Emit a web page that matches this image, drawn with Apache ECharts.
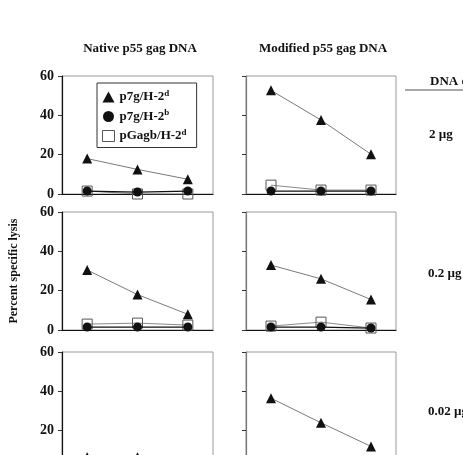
<!DOCTYPE html>
<html>
<head>
<meta charset="utf-8">
<script src="https://cdn.jsdelivr.net/npm/echarts@6/dist/echarts.min.js"></script>
<style>
  html, body { margin: 0; padding: 0; background: #fff; }
  #chart { width: 463px; height: 455px; }
</style>
</head>
<body>
<div id="chart"></div>
<script>
// effector points (unlabelled on the figure)
var categories = ['1', '2', '3'];
var yTicks = [0, 20, 40, 60];
var seriesNames = ['p7g/H-2d', 'p7g/H-2b', 'pGagb/H-2d'];
var doseLabels = ['2 µg', '0.2 µg', '0.02 µg'];

// native p55 gag DNA
var native2_d = [18, 12.5, 7.5];
var native2_b = [1.5, 1, 1.5];
var native2_g = [1.5, 0, 0];
var native02_d = [30.5, 18, 8];
var native02_b = [1.5, 1.5, 1.5];
var native02_g = [3, 3.5, 2.5];
var native002_d = [6.5, 6.5, 3];
var native002_b = [1, 1, 1];
var native002_g = [1.5, 1, 1];

// modified p55 gag DNA
var mod2_d = [52.7, 37.6, 20.2];
var mod2_b = [1.5, 1.5, 1.5];
var mod2_g = [4.5, 2, 2];
var mod02_d = [33, 26, 15.5];
var mod02_b = [1.5, 1.5, 1];
var mod02_g = [2, 4, 1];
var mod002_d = [36.5, 24, 12];
var mod002_b = [1.5, 1.5, 1];
var mod002_g = [2, 1.5, 1];

var panels = [
  [native2_d, native2_b, native2_g],
  [mod2_d, mod2_b, mod2_g],
  [native02_d, native02_b, native02_g],
  [mod02_d, mod02_b, mod02_g],
  [native002_d, native002_b, native002_g],
  [mod002_d, mod002_b, mod002_g]
];

var serif = 'Liberation Serif';
var ink = '#111';

var rowTops = [76, 212, 352];
var colLefts = [62, 246];
var colWidths = [151, 150];

var grids = [], xAxes = [], yAxes = [], series = [];
for (var i = 0; i < 6; i++) {
  var row = Math.floor(i / 2), col = i % 2;
  grids.push({
    left: colLefts[col], width: colWidths[col], top: rowTops[row], height: 118,
    outerBoundsMode: 'none', containLabel: false,   // last row runs off the page
    show: true, borderColor: '#9a9a9a', borderWidth: 1, backgroundColor: 'transparent'
  });
  xAxes.push({
    gridIndex: i, type: 'category', data: categories, boundaryGap: true,
    axisLine: { lineStyle: { color: ink, width: 1.2 } },
    axisTick: { alignWithLabel: true, length: 6, lineStyle: { color: '#444' } },
    axisLabel: { show: false }, splitLine: { show: false }
  });
  yAxes.push({
    gridIndex: i, type: 'value', min: yTicks[0], max: yTicks[yTicks.length - 1], interval: 20,
    axisLine: { show: true, lineStyle: { color: col === 0 ? ink : '#777', width: 1.2 } },
    axisTick: { show: true, length: 4, lineStyle: { color: '#333' } },
    axisLabel: {
      show: col === 0, color: ink, fontFamily: serif, fontWeight: 'bold', fontSize: 14, margin: 8
    },
    splitLine: { show: false },
    name: i === 2 ? 'Percent specific lysis' : '',
    nameLocation: 'middle', nameGap: 42,
    nameTextStyle: { color: ink, fontFamily: serif, fontWeight: 'bold', fontSize: 12 }
  });
  var vals = panels[i];
  series.push({
    name: seriesNames[0], type: 'line', xAxisIndex: i, yAxisIndex: i, data: vals[0],
    symbol: 'triangle', symbolSize: 10,
    itemStyle: { color: ink }, lineStyle: { color: '#7a7a7a', width: 1 }, z: 4
  });
  series.push({
    name: seriesNames[1], type: 'line', xAxisIndex: i, yAxisIndex: i, data: vals[1],
    symbol: 'circle', symbolSize: 9,
    itemStyle: { color: ink }, lineStyle: { color: ink, width: 1.2 }, z: 3
  });
  series.push({
    name: seriesNames[2], type: 'line', xAxisIndex: i, yAxisIndex: i, data: vals[2],
    symbol: 'rect', symbolSize: 10,
    itemStyle: { color: 'rgba(255,255,255,0)', borderColor: '#555', borderWidth: 1 },
    lineStyle: { color: '#8a8a8a', width: 1 }, z: 2
  });
}

var titleFont = 'bold 13px "Liberation Serif"';
var chart = echarts.init(document.getElementById('chart'));
chart.setOption({
  animation: false,
  backgroundColor: '#fff',
  grid: grids,
  xAxis: xAxes,
  yAxis: yAxes,
  series: series,
  legend: {
    left: 97, top: 83, orient: 'vertical',
    padding: [6, 10, 5, 5], itemGap: 5, itemWidth: 12, itemHeight: 11,
    borderColor: '#333', borderWidth: 1, backgroundColor: '#fff',
    selectedMode: false,
    data: [
      { name: seriesNames[0], icon: 'triangle', itemStyle: { color: ink } },
      { name: seriesNames[1], icon: 'circle', itemStyle: { color: ink } },
      { name: seriesNames[2], icon: 'rect', itemStyle: { color: '#fff', borderColor: '#555', borderWidth: 1 } }
    ],
    formatter: function (name) {
      return '{b|' + name.slice(0, -1) + '}{s|' + name.slice(-1) + '}';
    },
    textStyle: {
      rich: {
        b: { fontFamily: serif, fontWeight: 'bold', fontSize: 13, color: ink },
        s: { fontFamily: serif, fontWeight: 'bold', fontSize: 9, color: ink, padding: [0, 0, 7, 0] }
      }
    }
  },
  graphic: [
    { type: 'text', style: { x: 140, y: 49, text: 'Native p55 gag DNA', font: titleFont, fill: ink, align: 'center', verticalAlign: 'middle' } },
    { type: 'text', style: { x: 323, y: 49, text: 'Modified p55 gag DNA', font: titleFont, fill: ink, align: 'center', verticalAlign: 'middle' } },
    { type: 'text', style: { x: 430, y: 82, text: 'DNA dose', font: titleFont, fill: ink, verticalAlign: 'middle' } },
    { type: 'line', shape: { x1: 405, y1: 90, x2: 463, y2: 90 }, style: { stroke: '#555', lineWidth: 1.2 } },
    { type: 'text', style: { x: 429, y: 135, text: doseLabels[0], font: titleFont, fill: ink, verticalAlign: 'middle' } },
    { type: 'text', style: { x: 428, y: 274, text: doseLabels[1], font: titleFont, fill: ink, verticalAlign: 'middle' } },
    { type: 'text', style: { x: 428, y: 412, text: doseLabels[2], font: titleFont, fill: ink, verticalAlign: 'middle' } }
  ]
});
</script>
</body>
</html>
